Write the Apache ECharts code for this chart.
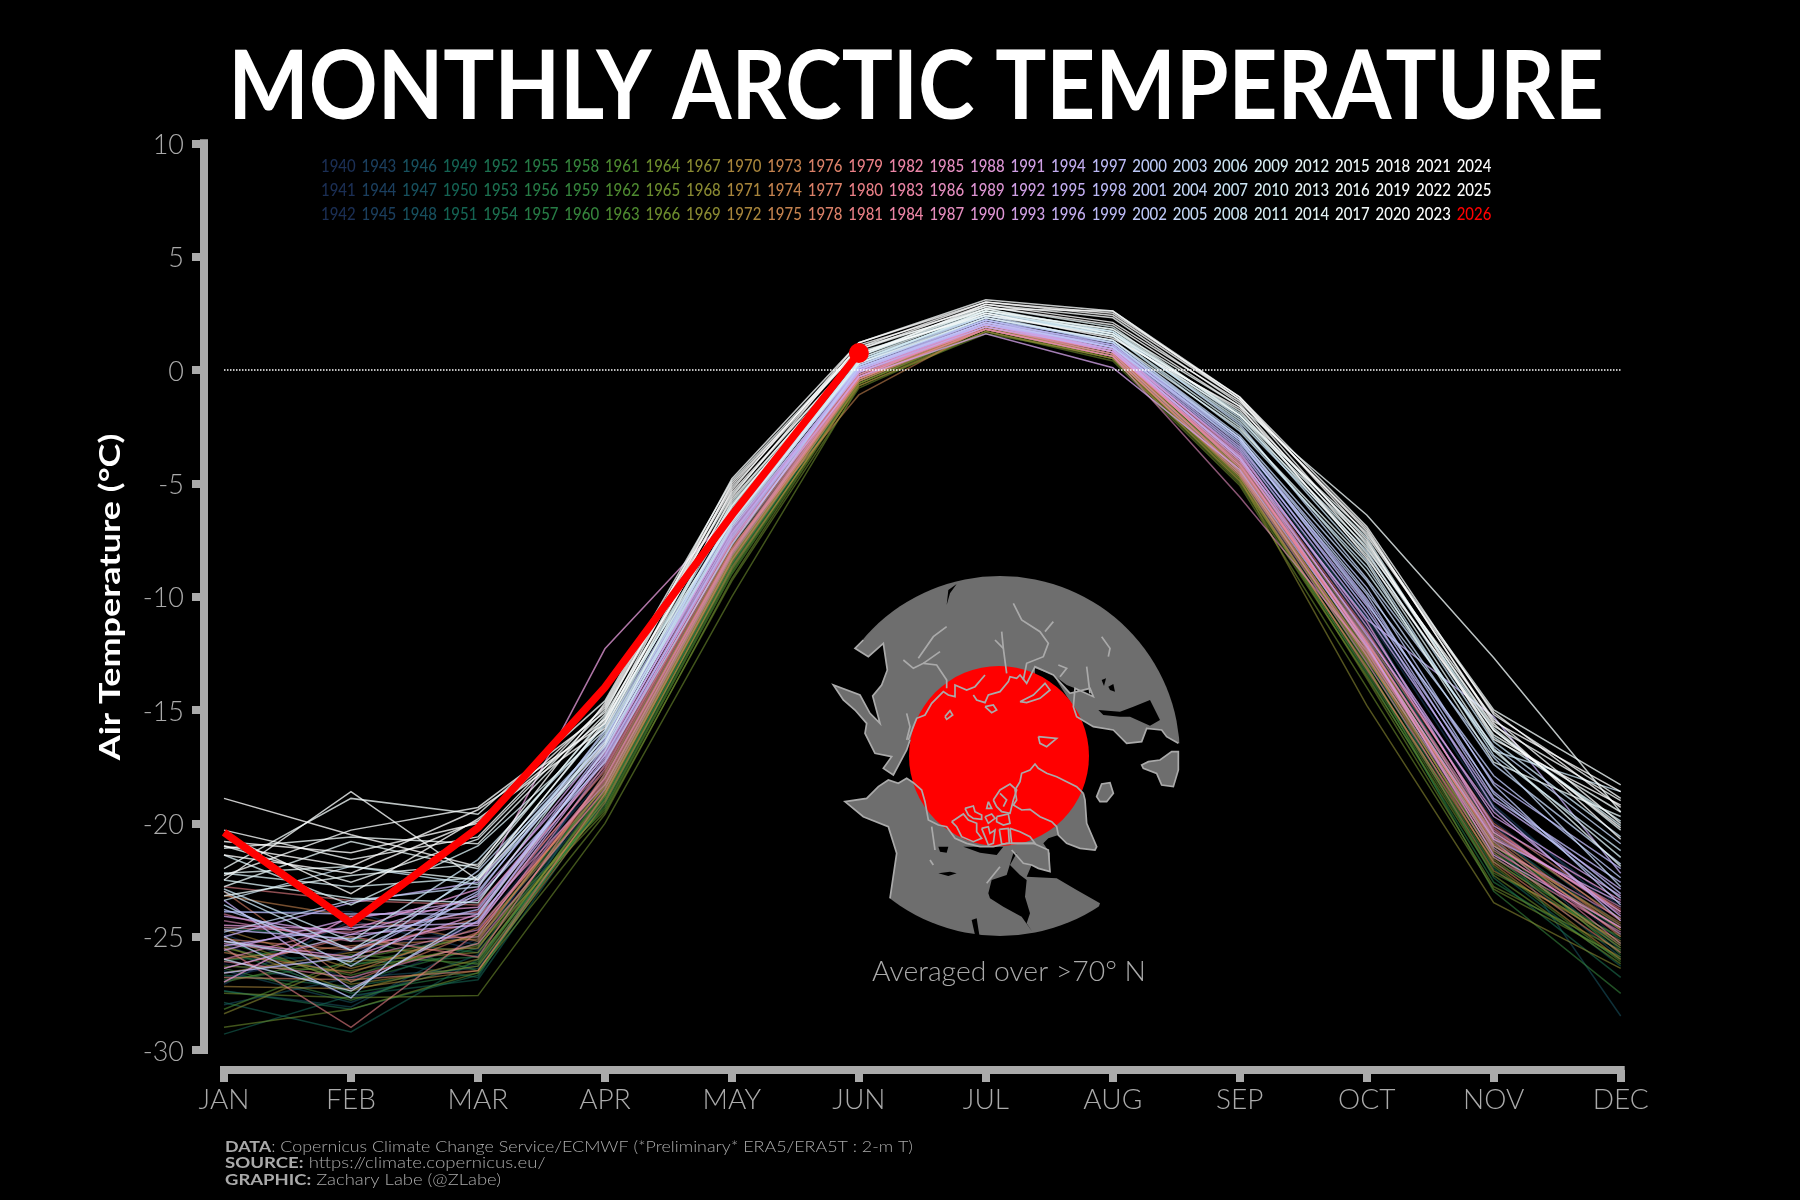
<!DOCTYPE html>
<html>
<head>
<meta charset="utf-8">
<style>html,body{margin:0;padding:0;background:#000}#c{width:1800px;height:1200px}</style>
<script src="https://cdn.jsdelivr.net/npm/echarts@6/dist/echarts.min.js"></script>
</head>
<body>
<div id="c"></div>
<script>
const months = ['JAN','FEB','MAR','APR','MAY','JUN','JUL','AUG','SEP','OCT','NOV','DEC'];
const y1940 = [-26.2,-27.3,-25.1,-18.4,-8.3,-0.2,2.0,0.9,-4.0,-11.6,-20.6,-24.8];
const y1941 = [-26.8,-25.6,-24.7,-17.6,-7.6,0.0,2.1,1.0,-3.7,-11.2,-19.9,-24.1];
const y1942 = [-25.3,-27.7,-26.2,-18.1,-8.0,-0.3,1.9,0.8,-3.9,-12.1,-20.3,-25.2];
const y1943 = [-27.1,-24.3,-25.6,-17.2,-7.4,0.1,2.2,1.1,-3.4,-10.9,-19.4,-23.7];
const y1944 = [-24.9,-26.9,-24.3,-17.9,-7.9,-0.1,2.0,0.9,-3.6,-11.4,-20.1,-24.5];
const y1945 = [-23.9,-23.9,-25.4,-17.4,-7.1,0.0,2.3,1.2,-3.2,-10.6,-19.2,-24.0];
const y1946 = [-26.5,-27.9,-25.8,-18.5,-8.1,-0.2,1.9,0.9,-3.8,-11.8,-20.7,-25.6];
const y1947 = [-27.4,-28.1,-25.2,-18.0,-7.7,-0.2,2.0,1.0,-3.5,-11.0,-20.4,-28.5];
const y1948 = [-28.0,-26.8,-26.4,-18.6,-8.4,-0.4,1.9,0.8,-4.1,-12.4,-21.4,-25.9];
const y1949 = [-26.0,-25.9,-26.8,-17.8,-7.8,-0.1,2.1,0.9,-3.9,-11.7,-20.5,-24.6];
const y1950 = [-29.3,-27.6,-26.9,-18.9,-8.6,-0.3,1.8,0.7,-4.4,-12.8,-21.3,-25.4];
const y1951 = [-27.9,-29.2,-26.0,-19.1,-8.8,-0.5,1.8,0.6,-4.6,-13.2,-22.0,-26.3];
const y1952 = [-27.4,-28.2,-26.7,-18.7,-8.2,-0.4,1.9,0.8,-4.2,-12.3,-21.1,-25.7];
const y1953 = [-24.6,-25.1,-25.7,-18.3,-8.0,-0.2,2.0,0.9,-4.0,-11.9,-20.8,-24.9];
const y1954 = [-26.7,-27.2,-26.3,-19.0,-8.5,-0.5,1.8,0.7,-4.5,-12.6,-22.4,-26.8];
const y1955 = [-25.6,-27.5,-26.6,-18.8,-8.3,-0.3,1.9,0.6,-4.3,-12.9,-21.7,-25.1];
const y1956 = [-26.9,-26.2,-25.9,-19.2,-8.7,-0.4,1.8,0.7,-4.7,-13.4,-22.6,-26.0];
const y1957 = [-25.2,-27.0,-25.5,-18.2,-8.1,-0.1,2.0,0.9,-4.1,-12.0,-21.2,-25.5];
const y1958 = [-26.4,-27.8,-26.1,-18.6,-8.4,-0.3,1.9,0.8,-4.4,-13.0,-23.0,-27.5];
const y1959 = [-23.6,-26.3,-24.9,-18.4,-8.2,-0.2,2.0,0.8,-4.2,-12.2,-21.0,-24.7];
const y1960 = [-26.1,-25.0,-26.5,-18.9,-8.6,-0.4,1.8,0.7,-4.6,-12.7,-20.9,-25.8];
const y1961 = [-25.5,-26.7,-25.3,-19.3,-8.9,-0.5,1.9,0.6,-4.8,-13.1,-21.9,-26.1];
const y1962 = [-27.0,-25.8,-26.2,-18.5,-8.3,-0.3,2.0,0.8,-4.3,-12.5,-21.5,-25.3];
const y1963 = [-28.2,-26.0,-25.0,-19.4,-9.0,-0.6,1.7,0.5,-4.9,-13.3,-22.2,-25.0];
const y1964 = [-27.5,-27.7,-27.6,-20.0,-10.0,-0.7,1.6,0.6,-4.7,-13.6,-22.8,-25.6];
const y1965 = [-29.0,-28.2,-26.6,-19.6,-9.2,-0.6,1.8,0.5,-5.0,-13.5,-22.3,-26.2];
const y1966 = [-26.3,-26.5,-25.4,-19.5,-9.3,-0.8,1.7,0.4,-5.1,-14.0,-22.9,-25.9];
const y1967 = [-25.4,-27.4,-26.0,-18.7,-8.5,-0.4,1.9,0.7,-4.4,-12.8,-20.4,-24.2];
const y1968 = [-28.4,-26.1,-25.7,-19.0,-8.8,-0.6,1.8,0.6,-4.8,-14.8,-23.5,-26.4];
const y1969 = [-25.0,-27.1,-26.3,-18.8,-8.4,-0.3,1.8,0.7,-4.5,-12.4,-21.6,-25.5];
const y1970 = [-26.6,-25.7,-25.5,-18.3,-8.0,-0.5,1.9,0.8,-4.2,-12.0,-21.0,-24.4];
const y1971 = [-24.7,-26.4,-24.9,-18.6,-8.3,-0.4,1.8,0.6,-4.6,-12.6,-21.8,-26.0];
const y1972 = [-27.2,-27.3,-26.5,-19.1,-8.7,-0.7,1.7,0.5,-4.9,-13.1,-22.1,-25.2];
const y1973 = [-26.0,-25.4,-25.1,-18.0,-7.8,-1.1,1.9,0.7,-4.1,-12.3,-20.6,-24.7];
const y1974 = [-25.7,-26.6,-24.6,-18.4,-8.1,-0.3,2.0,0.8,-4.5,-12.7,-21.3,-25.4];
const y1975 = [-23.2,-24.1,-25.2,-17.9,-7.9,-0.4,1.9,0.9,-4.3,-12.1,-20.9,-24.5];
const y1976 = [-26.8,-26.9,-26.5,-18.7,-8.4,-0.5,1.8,0.6,-4.7,-13.2,-21.7,-25.7];
const y1977 = [-25.1,-25.6,-24.2,-17.7,-7.6,-0.2,2.0,0.9,-3.9,-11.8,-20.0,-23.9];
const y1978 = [-23.0,-27.0,-24.8,-18.2,-8.0,-0.4,1.8,0.7,-4.4,-12.5,-20.7,-25.0];
const y1979 = [-25.5,-29.0,-24.8,-18.1,-7.9,-0.2,1.9,0.8,-4.0,-12.2,-21.2,-24.6];
const y1980 = [-26.4,-25.0,-25.9,-17.8,-7.7,-0.3,2.0,0.9,-4.2,-12.0,-20.5,-23.8];
const y1981 = [-22.8,-23.4,-23.6,-17.5,-7.5,-0.1,2.1,1.0,-3.8,-11.5,-20.2,-24.3];
const y1982 = [-26.1,-26.8,-25.3,-18.5,-8.2,-0.4,1.8,0.6,-4.6,-12.9,-21.5,-24.8];
const y1983 = [-24.6,-24.8,-23.9,-17.3,-7.4,-0.3,1.9,0.8,-4.1,-12.3,-20.8,-25.3];
const y1984 = [-24.0,-25.5,-24.4,-17.6,-7.6,-0.1,2.0,0.9,-4.3,-12.0,-20.3,-24.0];
const y1985 = [-25.3,-26.0,-24.7,-18.0,-8.0,-0.2,1.9,0.7,-4.5,-12.6,-21.1,-24.9];
const y1986 = [-24.3,-25.2,-25.0,-17.4,-7.3,-0.1,1.8,0.6,-5.6,-12.4,-21.0,-24.2];
const y1987 = [-26.0,-24.5,-24.1,-18.3,-8.1,-0.3,2.0,0.8,-4.2,-11.9,-20.6,-23.7];
const y1988 = [-27.0,-24.1,-23.7,-17.0,-7.2,0.0,2.1,0.9,-3.9,-12.1,-21.4,-24.6];
const y1989 = [-25.2,-25.9,-24.0,-16.8,-7.0,-0.1,2.0,0.8,-4.0,-11.6,-20.1,-23.4];
const y1990 = [-24.5,-24.7,-22.9,-12.3,-6.3,0.1,2.1,1.0,-3.7,-11.1,-20.4,-23.9];
const y1991 = [-25.6,-24.2,-23.4,-16.5,-7.1,0.0,2.0,0.9,-3.6,-11.3,-19.7,-23.2];
const y1992 = [-24.1,-24.9,-24.5,-17.2,-7.5,-0.3,1.6,0.1,-4.4,-12.2,-20.7,-23.5];
const y1993 = [-26.4,-24.9,-23.2,-16.9,-6.9,0.0,2.1,0.8,-3.8,-11.7,-19.5,-24.1];
const y1994 = [-23.4,-27.3,-24.3,-17.1,-7.3,0.1,2.0,1.0,-3.5,-10.8,-19.0,-22.9];
const y1995 = [-25.0,-23.5,-22.6,-16.4,-6.6,0.1,2.2,1.1,-3.4,-10.4,-19.3,-24.3];
const y1996 = [-25.4,-24.6,-24.4,-16.7,-7.2,-0.1,1.9,0.9,-3.9,-11.0,-15.3,-22.2];
const y1997 = [-24.7,-25.1,-23.8,-17.0,-7.4,0.0,2.1,1.2,-3.3,-10.6,-18.6,-23.1];
const y1998 = [-23.9,-24.0,-24.0,-16.6,-6.8,0.2,2.2,1.0,-3.1,-10.2,-18.9,-22.6];
const y1999 = [-26.6,-25.9,-23.0,-16.3,-7.0,0.1,2.0,1.1,-3.0,-10.1,-18.2,-22.0];
const y2000 = [-23.8,-25.6,-23.3,-17.3,-7.7,0.1,2.1,1.0,-3.2,-9.9,-18.7,-23.3];
const y2001 = [-25.0,-27.7,-22.4,-16.2,-6.7,0.2,2.3,1.2,-3.1,-10.3,-17.9,-22.4];
const y2002 = [-23.6,-26.3,-23.1,-15.9,-6.5,0.3,2.2,1.3,-3.0,-9.6,-18.3,-23.6];
const y2003 = [-26.0,-27.4,-24.1,-16.8,-6.4,0.2,2.3,1.3,-2.9,-9.3,-17.4,-21.8];
const y2004 = [-24.8,-23.4,-22.8,-16.0,-6.6,0.3,2.4,1.2,-3.0,-9.8,-17.1,-22.8];
const y2005 = [-25.2,-26.1,-22.1,-16.2,-6.6,0.4,2.4,1.7,-2.4,-9.2,-16.6,-20.9];
const y2006 = [-23.4,-21.9,-22.7,-16.6,-6.9,0.3,2.6,1.5,-2.7,-8.7,-16.8,-18.6];
const y2007 = [-23.0,-25.6,-22.3,-16.4,-6.8,0.4,2.5,1.7,-2.1,-8.4,-17.0,-21.2];
const y2008 = [-22.9,-25.2,-21.6,-15.7,-6.3,0.5,2.4,1.6,-2.3,-8.0,-16.4,-20.6];
const y2009 = [-22.5,-23.3,-23.5,-16.1,-6.5,0.4,2.5,1.5,-2.5,-8.9,-16.8,-21.5];
const y2010 = [-22.2,-22.8,-22.4,-15.6,-6.1,0.6,2.6,1.6,-2.2,-7.8,-15.9,-20.1];
const y2011 = [-21.4,-23.6,-21.0,-15.9,-6.0,0.6,2.7,1.7,-1.9,-7.4,-16.2,-19.9];
const y2012 = [-22.2,-21.9,-22.5,-16.5,-5.8,0.7,2.8,1.9,-2.0,-8.2,-16.7,-21.9];
const y2013 = [-23.2,-22.3,-21.8,-15.4,-6.7,0.3,2.3,1.3,-2.6,-8.5,-17.3,-19.7];
const y2014 = [-22.8,-20.8,-22.0,-15.3,-5.9,0.5,2.6,1.8,-2.0,-7.6,-15.8,-20.3];
const y2015 = [-21.0,-22.6,-20.7,-15.0,-5.5,0.7,2.7,1.6,-1.8,-8.1,-16.1,-19.5];
const y2016 = [-22.0,-18.9,-19.6,-14.6,-4.9,1.0,2.6,1.8,-1.6,-6.4,-12.7,-19.5];
const y2017 = [-21.1,-20.6,-20.9,-15.2,-6.0,0.8,2.4,1.5,-2.0,-7.2,-15.0,-18.3];
const y2018 = [-22.5,-18.6,-22.5,-15.5,-5.7,0.6,2.9,2.3,-1.5,-7.9,-15.4,-20.0];
const y2019 = [-20.3,-21.6,-20.6,-14.8,-5.2,0.9,2.7,2.6,-1.3,-7.7,-15.7,-19.0];
const y2020 = [-22.3,-20.3,-19.3,-15.1,-4.8,1.2,3.1,2.6,-1.2,-6.9,-15.2,-18.9];
const y2021 = [-20.8,-21.3,-20.0,-14.9,-5.4,0.7,2.5,1.4,-1.7,-7.5,-16.3,-19.2];
const y2022 = [-21.4,-22.2,-19.9,-15.4,-5.0,0.9,2.9,2.1,-1.4,-7.0,-15.6,-20.7];
const y2023 = [-20.5,-23.1,-19.8,-15.8,-5.6,1.1,2.8,2.0,-1.6,-8.3,-15.9,-20.2];
const y2024 = [-18.9,-20.5,-21.9,-14.7,-5.1,1.0,3.0,2.5,-1.2,-7.3,-15.1,-19.3];
const y2025 = [-21.0,-21.9,-19.4,-15.6,-5.3,1.2,3.0,2.4,-1.3,-7.1,-15.5,-18.6];
const y2026 = [-20.4,-24.4,-20.2,-14.0,-6.4,0.75];
const zeroLine = [0,0,0,0,0,0,0,0,0,0,0,0];
const firstYear = 1940;
const yearRows = [y1940,y1941,y1942,y1943,y1944,y1945,y1946,y1947,y1948,y1949,
  y1950,y1951,y1952,y1953,y1954,y1955,y1956,y1957,y1958,y1959,
  y1960,y1961,y1962,y1963,y1964,y1965,y1966,y1967,y1968,y1969,
  y1970,y1971,y1972,y1973,y1974,y1975,y1976,y1977,y1978,y1979,
  y1980,y1981,y1982,y1983,y1984,y1985,y1986,y1987,y1988,y1989,
  y1990,y1991,y1992,y1993,y1994,y1995,y1996,y1997,y1998,y1999,
  y2000,y2001,y2002,y2003,y2004,y2005,y2006,y2007,y2008,y2009,
  y2010,y2011,y2012,y2013,y2014,y2015,y2016,y2017,y2018,y2019,
  y2020,y2021,y2022,y2023,y2024,y2025];
const columnColors = ['#1b2f55','#1b3f5f','#17505e','#146353','#1c7150','#267b45','#35843c','#4e8a30','#6c8c2d','#8a8a32','#a8853b','#c4824e','#da8068','#e97f86','#ec85a6','#e58dbf','#de95d4','#d0a0e6','#c2adf0','#bbb9f5','#bcc8f7','#c3d6f5','#c9e3f2','#d6edf2','#e4f3f5','#f0f9f9','#f8fcfc','#ffffff','#ffffff'];

// Arctic inset outline, in inset-local units
const oceanShapes = [
 [[150,150],[190,240],[165,265],[205,290],[250,250],[262,330],[245,375],[218,408],[240,490],[210,460],[180,405],[100,375],[130,420],[165,450],[200,490],[195,520],[225,580],[275,590],[250,625],[280,645],[320,570],[330,540],[400,600],[340,670],[320,655],[295,670],[265,660],[235,680],[200,715],[135,725],[190,770],[265,800],[290,880],[270,1015],[200,1150],[0,1150],[0,0]],
 [[1135,550],[1100,530],[1085,510],[1040,505],[1025,545],[980,550],[940,510],[880,500],[830,470],[820,440],[760,345],[705,325],[700,600],[850,700],[855,720],[860,790],[890,860],[885,870],[840,865],[800,850],[775,825],[745,835],[730,850],[750,880],[750,935],[715,925],[695,915],[680,950],[770,955],[830,990],[900,1030],[860,1150],[1250,1150],[1250,560]],
 [[895,450],[960,455],[1000,440],[1050,420],[1080,480],[1050,497],[990,470],[960,470],[910,465]],
 [[565,1000],[575,960],[620,945],[640,880],[650,880],[630,915],[660,945],[680,960],[675,1010],[690,1060],[680,1090],[697,1115],[665,1070],[610,1040],[570,1015]],
 [[760,345],[810,400],[870,385],[880,410],[825,385],[800,375]],
 [[415,860],[445,860],[440,878],[420,875]],[[415,940],[450,935],[470,940],[445,948]],
 [[440,135],[445,90],[470,72],[450,100]],[[515,1080],[530,1075],[538,1125],[525,1125]],
 [[925,380],[940,372],[945,395],[930,390]],[[905,360],[918,355],[912,378]],
 [[490,860],[540,878],[590,885],[610,860],[560,860]]
];
const landShapes = [
 [[1025,615],[1045,605],[1080,600],[1115,575],[1135,575],[1135,630],[1120,680],[1085,675],[1070,640],[1030,625]],
 [[890,710],[905,672],[930,668],[940,700],[920,725],[900,725]]
];
const coastLines = [
 [[190,240],[165,265],[205,290],[250,250],[262,330],[245,375],[218,408],[240,490],[210,460],[180,405],[100,375],[130,420],[165,450],[200,490],[195,520],[225,580],[275,590],[250,625],[280,645],[320,570],[330,540]],
 [[270,1015],[290,880],[265,800],[190,770],[135,725],[200,715],[235,680],[265,660],[295,670],[320,655],[340,668],[365,690],[375,725],[385,780],[415,795],[440,800],[465,835],[500,850],[540,860],[580,860],[620,850],[700,850],[745,870],[750,935],[715,925],[695,915],[670,910],[635,870]],
 [[325,540],[340,500],[350,475],[375,465],[395,430],[430,395],[445,405],[465,410],[465,375],[500,390],[525,380],[555,345]],
 [[520,405],[530,420],[555,428],[565,405],[600,395],[625,365],[630,350],[650,355],[660,345],[680,370],[695,340],[705,320],[760,345],[810,400],[870,385],[880,410],[825,385],[820,440],[830,470],[880,500],[940,510],[980,550],[1025,545],[1040,505],[1085,510],[1100,530],[1135,550]],
 [[660,425],[700,405],[735,370],[750,390],[720,415],[680,428],[660,425]],
 [[715,530],[770,535],[740,560],[720,550],[715,530]],[[435,470],[450,452],[458,465],[440,478],[435,470]],[[555,440],[580,435],[590,450],[575,458],[555,440]],
 [[850,700],[830,680],[800,665],[770,650],[740,640],[715,625],[705,612],[690,630],[665,640],[660,665],[645,690],[650,720],[640,735],[665,750],[690,748],[720,770],[755,785],[770,800],[775,825],[800,850],[840,865],[885,870],[890,860],[860,790],[855,720],[850,700]],
 [[580,720],[600,690],[630,672],[650,690],[640,720],[630,760],[605,755],[590,740],[580,720]],[[600,700],[620,720],[610,740]],
 [[495,745],[520,738],[525,755],[545,765],[545,778],[520,775],[505,765],[495,745]],
 [[555,770],[575,762],[585,775],[565,790],[555,770]],[[590,770],[625,762],[630,790],[610,795],[590,785],[590,770]],
 [[455,785],[490,762],[505,780],[530,790],[530,815],[545,835],[520,845],[485,830],[470,800],[455,785]],
 [[545,805],[565,800],[570,820],[585,810],[580,850],[565,855],[555,830],[545,805]],
 [[598,808],[625,805],[628,850],[605,852],[598,808]],[[630,805],[660,815],[690,830],[705,850],[680,850],[635,850],[630,805]],
 [[565,725],[575,745],[560,745],[565,725]],
 [[310,300],[340,325],[370,310],[410,315],[440,360],[440,385]],[[355,295],[400,230],[440,200]],[[370,310],[420,275]],
 [[640,130],[665,180],[720,215],[745,250],[730,290],[680,310],[670,360]],[[735,215],[760,185]],[[585,240],[610,265],[620,340]],[[605,215],[610,265]],
 [[905,230],[930,265],[925,290]],[[860,320],[870,400]],[[775,315],[800,325],[780,350]],
 [[320,460],[330,500],[320,540]],[[390,900],[400,915]],[[395,800],[405,870]],[[600,920],[560,970]]
];

function ins(p){ return [800 + p[0]/3, 560 + p[1]/3]; }
const insetX = 1000, insetY = 756;
const graphics = [];
graphics.push({type:'circle',silent:true,shape:{cx:insetX,cy:insetY,r:180},style:{fill:'#6e6e6e'}});
oceanShapes.forEach(s=>graphics.push({type:'polygon',silent:true,shape:{points:s.map(ins)},style:{fill:'#000'}}));
landShapes.forEach(s=>graphics.push({type:'polygon',silent:true,shape:{points:s.map(ins)},style:{fill:'#6e6e6e',stroke:'#aaa',lineWidth:1.7}}));
graphics.push({type:'circle',silent:true,shape:{cx:999,cy:756,r:90},style:{fill:'#ff0000'}});
coastLines.forEach(s=>graphics.push({type:'polyline',silent:true,shape:{points:s.map(ins)},style:{fill:null,stroke:'#aaa',lineWidth:1.7}}));

function txt(o){
  return {type:'text',silent:true,x:o.x,y:o.y,rotation:o.rot||0,scaleX:o.sx||1,scaleY:1,
    style:{text:o.text,fill:o.color,font:(o.weight||400)+' '+o.size+'px Lato',align:o.align||'left',verticalAlign:'middle',rich:o.rich}};
}
graphics.push(txt({x:916,y:88,text:'MONTHLY ARCTIC TEMPERATURE',color:'#fff',size:95,weight:700,align:'center',sx:0.897}));
graphics.push(txt({x:111,y:597,text:'Air Temperature (°C)',color:'#fff',size:29,weight:700,align:'center',rot:Math.PI/2,sx:1.24}));
graphics.push(txt({x:1009,y:972,text:'Averaged over >70° N',color:'#aaa',size:27,weight:300,align:'center',sx:1.05}));
const foot = {b:{fill:'#aaa',font:'700 15px Lato'},n:{fill:'#aaa',font:'300 15px Lato'}};
graphics.push(txt({x:225,y:1147,size:15,color:'#aaa',sx:1.19,text:'{b|DATA}{n|: Copernicus Climate Change Service/ECMWF (*Preliminary* ERA5/ERA5T : 2-m T)}',rich:foot}));
graphics.push(txt({x:225,y:1163.5,size:15,color:'#aaa',sx:1.24,text:'{b|SOURCE:}{n| https://climate.copernicus.eu/}',rich:foot}));
graphics.push(txt({x:225,y:1180,size:15,color:'#aaa',sx:1.23,text:'{b|GRAPHIC:}{n| Zachary Labe (@ZLabe)}',rich:foot}));

const allYears = yearRows.length + 1;
for (let i=0;i<allYears;i++){
  const yr = firstYear + i, col = Math.floor(i/3), row = i%3;
  const c = yr===2026 ? '#ff0000' : columnColors[col];
  graphics.push(txt({x:321+col*40.56,y:167+row*24,text:String(yr),color:c,size:17,weight:500,sx:0.88}));
}

const series = yearRows.map((d,i)=>({
  type:'line',name:String(firstYear+i),data:d,showSymbol:false,symbol:'none',silent:true,animation:false,
  lineStyle:{width:1.5,color:columnColors[Math.floor(i/3)],opacity:i<48?0.6:0.78,join:'miter'},z:2+i*0.001
}));
series.push({type:'line',name:'zero',data:zeroLine,symbol:'none',silent:true,animation:false,
  lineStyle:{width:1.5,color:'#fff',type:[1.5,1.5],opacity:1},z:3});
series.push({type:'line',name:'2026',data:y2026,clip:false,silent:true,animation:false,
  symbol:'circle',symbolSize:(v,p)=>p.dataIndex===y2026.length-1?20:0,showAllSymbol:true,
  itemStyle:{color:'#ff0000'},lineStyle:{width:7.5,color:'#ff0000',cap:'butt',join:'miter'},z:4});

const chart = echarts.init(document.getElementById('c'),null,{renderer:'canvas',width:1800,height:1200});
chart.setOption({
  backgroundColor:'#000',animation:false,
  grid:{left:224,right:179.3,top:143.3,bottom:150,containLabel:false},
  xAxis:{type:'category',data:months,boundaryGap:false,offset:20,
    axisLine:{show:true,onZero:false,lineStyle:{color:'#aaa',width:8,cap:'square'}},
    axisTick:{show:true,length:12,lineStyle:{color:'#aaa',width:8}},
    axisLabel:{show:true,interval:0,color:'#aaa',fontFamily:'Lato',fontWeight:300,fontSize:28,margin:16,hideOverlap:false,showMinLabel:true,showMaxLabel:true},
    splitLine:{show:false}},
  yAxis:{type:'value',min:-30,max:10,interval:5,offset:20,
    axisLine:{show:true,onZero:false,lineStyle:{color:'#aaa',width:8,cap:'square'}},
    axisTick:{show:true,length:12,lineStyle:{color:'#aaa',width:8}},
    axisLabel:{color:'#aaa',fontFamily:'Lato',fontWeight:300,fontSize:27,margin:20,verticalAlign:'top',lineHeight:4},
    splitLine:{show:false}},
  tooltip:{show:false},legend:{show:false},
  graphic:graphics,
  series
});
</script>
</body>
</html>
